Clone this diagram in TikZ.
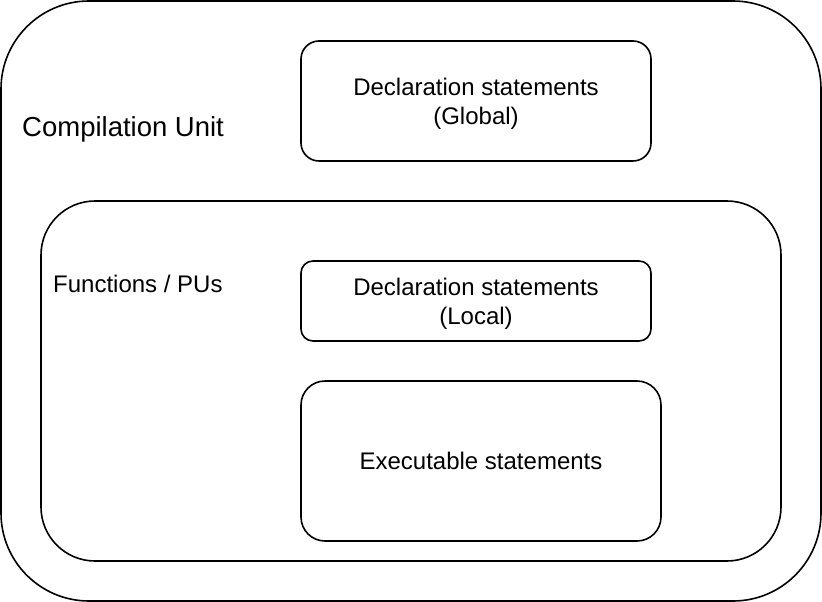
\documentclass[tikz,border=0pt]{standalone}
\usepackage{fontspec}
\setmainfont{Liberation Sans}

\tikzset{
	unit/.style={draw=black, line width=1.6pt},
	txt/.style={font=\fontsize{24}{29}\selectfont, align=center, inner sep=0pt},
	title/.style={font=\fontsize{27.5}{33}\selectfont, inner sep=0pt},
}

\begin{document}
\begin{tikzpicture}[x=1pt,y=-1pt]
\useasboundingbox (0,0) rectangle (822,602);

%Compilation unit
\node[unit, rounded corners=88pt, minimum width=820pt, minimum height=600pt] (cu) at (411,301) {};
\node[title, anchor=base west] (cutitle) at (22,136) {Compilation Unit};
\node[unit, rounded corners=18pt, minimum width=350pt, minimum height=120pt] (glob) at (476,101) {};
\node[txt] (globtext) at ([yshift=-2.5pt]glob.center) {Declaration statements\\(Global)};

%Functions / PUs
\node[unit, rounded corners=54pt, minimum width=740pt, minimum height=360pt] (fn) at (411,381) {};
\node[txt, anchor=base west] (fntitle) at (53,292) {Functions / PUs};
\node[unit, rounded corners=12pt, minimum width=350pt, minimum height=80pt] (loc) at (476,301) {};
\node[txt] (loctext) at ([yshift=-2.5pt]loc.center) {Declaration statements\\(Local)};
\node[unit, txt, rounded corners=24pt, minimum width=360pt, minimum height=160pt] (exec) at (481,461) {Executable statements};
\end{tikzpicture}
\end{document}
